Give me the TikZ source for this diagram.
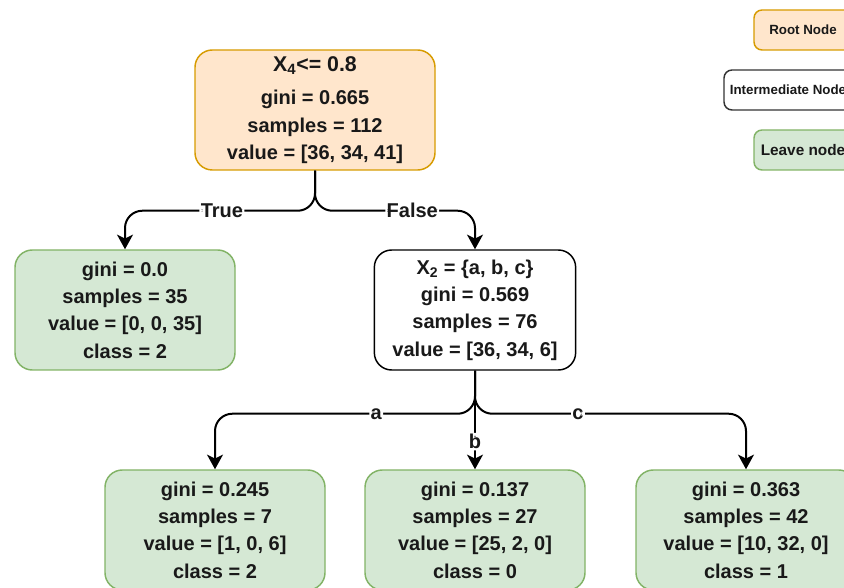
\documentclass[tikz,border=0pt]{standalone}
\usepackage{fontspec}
\setmainfont{Liberation Sans}
\usetikzlibrary{arrows.meta}

\tikzset{every picture/.style={line width=0.75pt}}
\tikzset{
  box/.style={rectangle, rounded corners=13pt, line width=1.1pt, align=center, inner sep=0pt,
    text={rgb, 255:red, 25; green, 25; blue, 25 }, font=\bfseries\fontsize{15}{20.5}\selectfont},
  rootbox/.style={box, draw={rgb, 255:red, 215; green, 155; blue, 0 }, fill={rgb, 255:red, 255; green, 230; blue, 204 }},
  midbox/.style={box, draw={rgb, 255:red, 0; green, 0; blue, 0 }, fill=white},
  leafbox/.style={box, draw={rgb, 255:red, 130; green, 179; blue, 102 }, fill={rgb, 255:red, 213; green, 232; blue, 212 }},
  keybox/.style={rounded corners=6pt, minimum height=30pt, font=\bfseries\fontsize{10}{12}\selectfont},
  edge/.style={line width=1.5pt, rounded corners=13pt, -{Stealth[length=11pt, width=12pt, inset=3pt]}},
  lbl/.style={fill=white, inner sep=1pt, text={rgb, 255:red, 25; green, 25; blue, 25 }, font=\bfseries\fontsize{15}{17}\selectfont}
}

\begin{document}
\begin{tikzpicture}[x=0.75pt,y=0.75pt,yscale=-1,xscale=1]

\useasboundingbox (0,0) rectangle (844,588);
\clip (0,0) rectangle (844,588);

\node (root) at (315,110) [rootbox, minimum width=180pt, minimum height=90pt] {{\fontsize{16}{20.5}\selectfont X\textsubscript{4}<= 0.8}\\[4.5pt] gini = 0.665\\ samples = 112\\ value = [36, 34, 41]};
\node (leafT) at (125,310) [leafbox, minimum width=165pt, minimum height=90pt] {gini = 0.0\\ samples = 35\\ value = [0, 0, 35]\\ class = 2};
\node (split) at (475,310) [midbox, minimum width=151pt, minimum height=90pt] {X\textsubscript{2} = \{a, b, c\}\\ gini = 0.569\\ samples = 76\\ value = [36, 34, 6]};
\node (leafA) at (215,530) [leafbox, minimum width=165pt, minimum height=90pt] {gini = 0.245\\ samples = 7\\ value = [1, 0, 6]\\ class = 2};
\node (leafB) at (475,530) [leafbox, minimum width=165pt, minimum height=90pt] {gini = 0.137\\ samples = 27\\ value = [25, 2, 0]\\ class = 0};
\node (leafC) at (746,530) [leafbox, minimum width=165pt, minimum height=90pt] {gini = 0.363\\ samples = 42\\ value = [10, 32, 0]\\ class = 1};

\node (keyroot) at (803,30) [rootbox, keybox, minimum width=73.5pt] {Root Node};
\node (keymid) at (788,90) [midbox, keybox, minimum width=96pt, draw={rgb, 255:red, 51; green, 51; blue, 51 }] {Intermediate Node};
\node (keyleaf) at (803,150) [leafbox, keybox, minimum width=73.5pt, font=\bfseries\fontsize{11.5}{13}\selectfont] {Leave node};

\draw [edge] (root.south) -- ++(0,40) -| node [lbl, pos=0.245] {True} (leafT.north);
\draw [edge] (root.south) -- ++(0,40) -| node [lbl, pos=0.304] {False} (split.north);
\draw [edge] (split.south) -- ++(0,43) -| node [lbl, pos=0.19] {a} (leafA.north);
\draw [edge] (split.south) -- node [lbl, pos=0.72] {b} (leafB.north);
\draw [edge] (split.south) -- ++(0,43) -| node [lbl, pos=0.19] {c} (leafC.north);

\end{tikzpicture}
\end{document}
